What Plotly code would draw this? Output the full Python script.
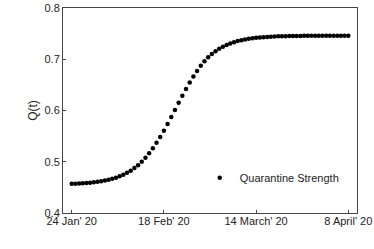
import plotly.graph_objects as go

days = list(range(76))
q_values = [
    0.4570, 0.4573, 0.4577, 0.4581, 0.4586, 0.4592, 0.4600, 0.4609, 0.4620, 0.4633,
    0.4649, 0.4667, 0.4689, 0.4715, 0.4747, 0.4783, 0.4826, 0.4876, 0.4934, 0.5001,
    0.5078, 0.5164, 0.5262, 0.5369, 0.5484, 0.5607, 0.5738, 0.5872, 0.6010, 0.6150,
    0.6287, 0.6420, 0.6545, 0.6663, 0.6773, 0.6872, 0.6960, 0.7037, 0.7102, 0.7158,
    0.7206, 0.7246, 0.7280, 0.7309, 0.7333, 0.7354, 0.7371, 0.7386, 0.7398, 0.7409,
    0.7418, 0.7425, 0.7431, 0.7436, 0.7440, 0.7444, 0.7447, 0.7449, 0.7451, 0.7453,
    0.7454, 0.7455, 0.7456, 0.7457, 0.7457, 0.7458, 0.7458, 0.7458, 0.7459, 0.7459,
    0.7459, 0.7459, 0.7459, 0.7459, 0.7459, 0.7459,
]
tick_days = [0, 25, 50, 75]
tick_labels = ["24 Jan' 20", "18 Feb' 20", "14 March' 20", "8 April' 20"]
y_ticks = [0.4, 0.5, 0.6, 0.7, 0.8]

FONT = "Liberation Sans, Arial, sans-serif"

fig = go.Figure()
fig.add_trace(go.Scatter(
    x=days, y=q_values, mode="markers", name="Quarantine Strength",
    marker=dict(color="black", size=4.5),
))

axis_common = dict(
    showgrid=False, zeroline=False, showline=True, linecolor="#444", linewidth=1,
    mirror=True, ticks="inside", ticklen=3, tickcolor="#444", automargin=False,
    tickfont=dict(family=FONT, size=11, color="#222"),
)
fig.update_xaxes(range=[-2.36, 77.36], tickmode="array", tickvals=tick_days,
                 ticktext=tick_labels, ticklabelstandoff=-2, **axis_common)
fig.update_yaxes(range=[0.4, 0.8], tickmode="array", tickvals=y_ticks,
                 ticktext=["0.4", "0.5", "0.6", "0.7", "0.8"],
                 title=dict(text="Q(t)", standoff=4,
                            font=dict(family=FONT, size=12, color="#222")),
                 **axis_common)
fig.update_layout(
    width=374, height=249,
    margin=dict(l=63, r=17, t=8, b=36),
    plot_bgcolor="white", paper_bgcolor="white",
    showlegend=True,
    legend=dict(x=0.465, y=0.172, xanchor="left", yanchor="middle",
                bgcolor="rgba(0,0,0,0)", itemwidth=30,
                font=dict(family=FONT, size=11, color="#222")),
)
fig.write_html("out.html", config={"displayModeBar": False},
               post_script="document.body.style.margin='0px';document.body.style.overflow='hidden';")
